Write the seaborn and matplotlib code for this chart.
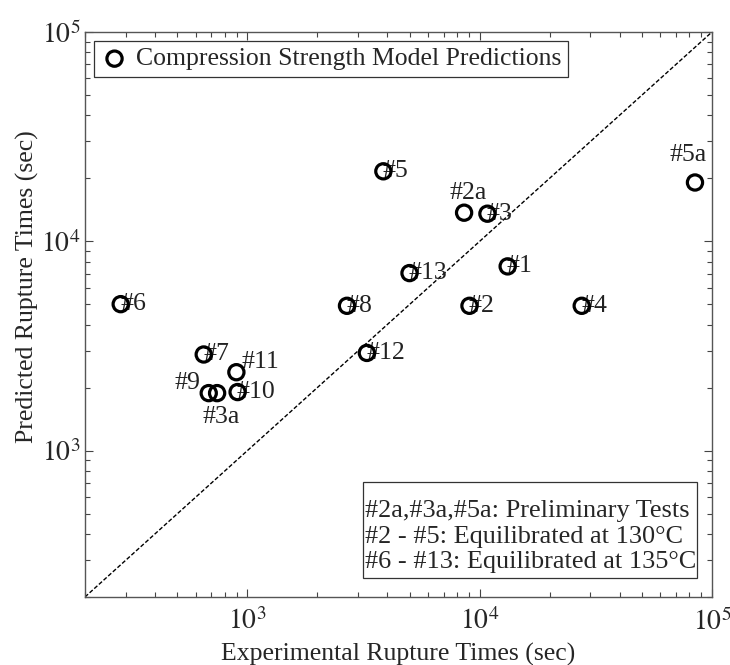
import numpy as np
import pandas as pd
import matplotlib
matplotlib.use("Agg")
import matplotlib.pyplot as plt
import seaborn as sns
from matplotlib.patches import Rectangle
from matplotlib.ticker import LogLocator, NullFormatter, FuncFormatter

# Specimen identifiers and rupture times (seconds)
specimens = ["#1", "#2", "#3", "#4", "#5", "#2a", "#5a", "#13", "#6",
             "#8", "#7", "#11", "#9", "#3a", "#10", "#12"]
experimental = [13200, 9040, 10800, 27500, 3850, 8570, 84500, 4990, 285,
                2685, 649, 897, 682, 741, 908, 3270]
predicted = [7590, 4920, 13550, 4920, 21600, 13700, 19100, 7050, 5010,
             4920, 2880, 2370, 1883, 1883, 1905, 2930]

# Label offsets in points (dx, dy, horizontal alignment)
label_pos = {
    "#2a": (3, 14, "center"),
    "#5a": (-5, 20, "center"),
    "#9": (-6, 7, "right"),
    "#3a": (3, -17, "center"),
    "#11": (4, 7, "left"),
}

notes = ["#2a,#3a,#5a: Preliminary Tests",
         "#2 - #5: Equilibrated at 130\u00b0C",
         "#6 - #13: Equilibrated at 135\u00b0C"]

df = pd.DataFrame({"specimen": specimens, "exp": experimental, "pred": predicted})

sns.set_style("ticks")
plt.rcParams["font.family"] = ["Liberation Serif", "DejaVu Serif"]
plt.rcParams["mathtext.fontset"] = "stix"
plt.rcParams["xtick.direction"] = "in"
plt.rcParams["ytick.direction"] = "in"

FS = 18.5

fig = plt.figure(figsize=(7.30, 6.65), dpi=100)
ax = fig.add_axes([0.1164, 0.1023, 0.8589, 0.8496])

lims = (200, 1e5)
ax.plot(lims, lims, color="black", lw=1.0, ls=(0, (3, 1.5)), zorder=1)

for _, r in df.iterrows():
    dx, dy, ha = label_pos.get(r["specimen"], (-0.5, 0, "left"))
    ax.annotate(r["specimen"], (r["exp"], r["pred"]), xytext=(dx, dy),
                textcoords="offset points", ha=ha, va="center",
                fontsize=FS, color="#222222", zorder=2)

sns.scatterplot(data=df, x="exp", y="pred", ax=ax, marker="o", s=120,
                facecolors="none", edgecolor="black", linewidth=2.3,
                label="Compression Strength Model Predictions", zorder=3)

ax.set_xscale("log")
ax.set_yscale("log")
ax.set_xlim(lims)
ax.set_ylim(lims)

for axis in (ax.xaxis, ax.yaxis):
    axis.set_major_locator(LogLocator(base=10, numticks=10))
    axis.set_minor_locator(LogLocator(base=10, subs=np.arange(2, 10), numticks=20))
    axis.set_minor_formatter(NullFormatter())
    axis.set_major_formatter(FuncFormatter(lambda v, p: r"$10^{%d}$" % round(np.log10(v))))

ax.tick_params(which="both", top=True, right=True, direction="in",
               labelsize=20, color="#444444")
ax.tick_params(which="major", length=6, width=0.8)
ax.tick_params(which="minor", length=3.5, width=0.8)
ax.tick_params(axis="x", which="major", pad=8)
ax.tick_params(axis="y", which="major", pad=3)
for s in ax.spines.values():
    s.set_color("#555555")
    s.set_linewidth(1.0)

ax.set_xlabel("Experimental Rupture Times (sec)", fontsize=FS, labelpad=5)
ax.set_ylabel("Predicted Rupture Times (sec)", fontsize=FS)
ax.yaxis.set_label_coords(-0.074, 0.55)

leg = ax.legend(loc="upper left", fontsize=FS, frameon=True, fancybox=False,
                edgecolor="#333333", framealpha=1, borderaxespad=0.35,
                handletextpad=0.3, handlelength=1.1, borderpad=0.25)
leg.get_frame().set_linewidth(0.9)

# Notes box in the lower right corner
ax.add_patch(Rectangle((0.4434, 0.0336), 0.5326, 0.1699, transform=ax.transAxes,
                       fc="white", ec="#333333", lw=0.9, zorder=5))
ax.text(0.4466, 0.107, "\n".join(notes), transform=ax.transAxes,
        ha="left", va="center", fontsize=18.9, linespacing=1.2, zorder=6)

fig.savefig("out.png", dpi=100)
